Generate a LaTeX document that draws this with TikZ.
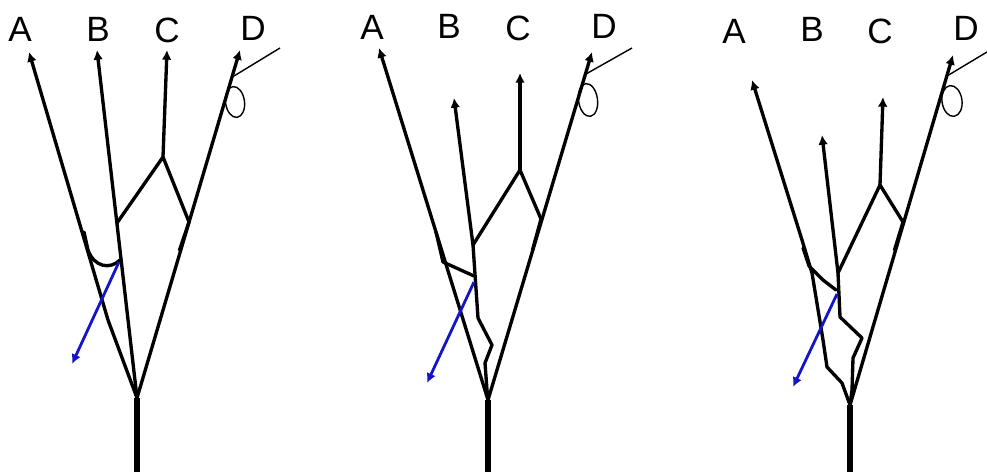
\documentclass[tikz,border=0pt]{standalone}
\usepackage{fontspec}
\setmainfont{Liberation Sans}
\usetikzlibrary{arrows.meta}
\definecolor{pushblue}{RGB}{20,20,200}

\begin{document}
\begin{tikzpicture}[x=0.02cm,y=-0.02cm,
        branch/.style={line width=1.9pt,line cap=round,line join=round},
        tip/.style={branch,-{Latex[length=5.5pt,width=5.5pt]}},
        trunk/.style={line width=3.2pt},
        tag/.style={inner sep=0pt,font=\fontsize{20}{20}\selectfont},
        wire/.style={line width=0.8pt},
        push/.style={line width=1.6pt,color=pushblue,-{Latex[length=5.5pt,width=5.5pt]}}]
    \useasboundingbox (0,0) rectangle (987,472);
    % first tree
    \node[tag] (lA1) at (20,29) {A};
    \node[tag] (lB1) at (98,29) {B};
    \node[tag] (lC1) at (167,30) {C};
    \node[tag] (lD1) at (253,28) {D};
    \coordinate (A1) at (29,52);
    \coordinate (B1) at (97,50);
    \coordinate (C1) at (167,50);
    \coordinate (D1) at (240,50);
    \coordinate (R1) at (137,398);
    \coordinate (T1) at (137,472);
    \coordinate (a1) at (108,320);
    \coordinate (b1) at (117,223);
    \coordinate (c1) at (163,157);
    \coordinate (d1) at (189,222);
    \coordinate (e1) at (179.5,250);
    \coordinate (h1) at (84,232);
    \coordinate (k1) at (120,260);
    \coordinate (s1) at (119,262);
    \coordinate (p1) at (72,364);
    \coordinate (w1) at (234,76);
    \coordinate (v1) at (280,48);
    \coordinate (o1) at (235,102);
    \draw[tip] (R1) -- (a1) -- (A1);
    \draw[tip] (R1) -- (B1);
    \draw[tip] (c1) -- (C1);
    \draw[tip] (R1) -- (D1);
    \draw[branch] (b1) -- (c1) -- (d1) -- (e1);
    \draw[branch] (h1) -- (88,250) .. controls (94,267) and (110,270) .. (k1);
    \draw[wire] (w1) -- (v1);
    \draw[wire,rotate around={8:(o1)}] (o1) ellipse [x radius=0.19cm, y radius=0.31cm];
    % second tree
    \node[tag] (lA2) at (372,27) {A};
    \node[tag] (lB2) at (449,26) {B};
    \node[tag] (lC2) at (518,28) {C};
    \node[tag] (lD2) at (604,26) {D};
    \coordinate (A2) at (379,48);
    \coordinate (B2) at (454,98);
    \coordinate (C2) at (520,73);
    \coordinate (D2) at (592,52);
    \coordinate (R2) at (488,400);
    \coordinate (T2) at (488,472);
    \coordinate (b2) at (473,245);
    \coordinate (c2) at (520,170);
    \coordinate (d2) at (541,219);
    \coordinate (e2) at (532.5,250);
    \coordinate (h2) at (436,232);
    \coordinate (k2) at (474,276);
    \coordinate (s2) at (474,282);
    \coordinate (p2) at (427,383);
    \coordinate (w2) at (586,74);
    \coordinate (v2) at (632,48);
    \coordinate (o2) at (588,100);
    \draw[tip] (R2) -- (A2);
    \draw[tip] (R2) -- (487,390) -- (485,363) -- (492,345) -- (478,318) -- (b2) -- (B2);
    \draw[tip] (c2) -- (C2);
    \draw[tip] (R2) -- (D2);
    \draw[branch] (b2) -- (c2) -- (d2) -- (e2);
    \draw[branch] (h2) -- (443,262) -- (k2);
    \draw[wire] (w2) -- (v2);
    \draw[wire,rotate around={8:(o2)}] (o2) ellipse [x radius=0.19cm, y radius=0.33cm];
    % third tree
    \node[tag] (lA3) at (734,31) {A};
    \node[tag] (lB3) at (812,29) {B};
    \node[tag] (lC3) at (880,31) {C};
    \node[tag] (lD3) at (966,28) {D};
    \coordinate (A3) at (752,80);
    \coordinate (B3) at (822,135);
    \coordinate (C3) at (883,97);
    \coordinate (D3) at (953,55);
    \coordinate (R3) at (850,405);
    \coordinate (T3) at (850,472);
    \coordinate (b3) at (838,273);
    \coordinate (c3) at (880,185);
    \coordinate (d3) at (903,222);
    \coordinate (e3) at (894.5,250);
    \coordinate (h3) at (803,248);
    \coordinate (k3) at (836,290);
    \coordinate (s3) at (837,294);
    \coordinate (p3) at (793,387);
    \coordinate (w3) at (947,76);
    \coordinate (v3) at (987,52);
    \coordinate (o3) at (952,101);
    \draw[tip] (R3) -- (842,383) -- (827,367) -- (823,340) -- (812,273) -- (802,240) -- (A3);
    \draw[tip] (R3) -- (852,390) -- (853,358) -- (862,338) -- (840,317) -- (b3) -- (B3);
    \draw[tip] (c3) -- (C3);
    \draw[tip] (R3) -- (D3);
    \draw[branch] (b3) -- (c3) -- (d3) -- (e3);
    \draw[branch] (h3) -- (809,266) -- (823,280) -- (k3);
    \draw[wire] (w3) -- (v3);
    \draw[wire,rotate around={8:(o3)}] (o3) ellipse [x radius=0.2cm, y radius=0.31cm];
    % trunks and pushes
    \foreach \t in {1,2,3}
        \draw[trunk] (R\t) -- (T\t);
    \foreach \t in {1,2,3}
        \draw[push] (s\t) -- (p\t);
\end{tikzpicture}
\end{document}
